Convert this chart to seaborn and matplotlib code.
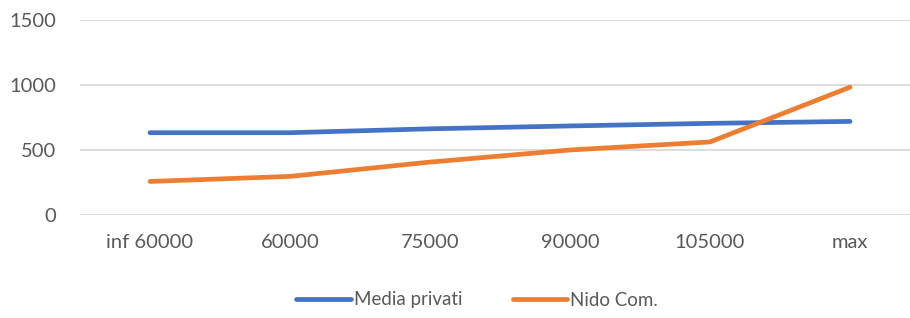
#!/usr/bin/env python3
"""Line chart: Media privati vs Nido Com. by income band."""

import matplotlib

matplotlib.use("Agg")
import matplotlib.pyplot as plt
import pandas as pd
import seaborn as sns

categories = ["inf 60000", "60000", "75000", "90000", "105000", "max"]
media_privati = [633, 633, 663, 685, 705, 720]
nido_com = [258, 297, 407, 500, 562, 983]
series_names = ["Media privati", "Nido Com."]
y_ticks = [0, 500, 1000, 1500]

sns.set_style("white")
plt.rcParams["font.family"] = ["Lato", "DejaVu Sans"]

TEXT = "#595959"
GRID = "#D9D9D9"
palette = {"Media privati": "#4472C4", "Nido Com.": "#ED7D31"}

df = pd.DataFrame(
    {
        "category": categories * 2,
        "value": media_privati + nido_com,
        "series": [series_names[0]] * len(categories) + [series_names[1]] * len(categories),
    }
)

fig = plt.figure(figsize=(9.1, 3.18), dpi=100)
W, H = 910, 318
ax = fig.add_axes([80 / W, (H - 215) / H, 840 / W, 195 / H])

sns.lineplot(
    data=df,
    x="category",
    y="value",
    hue="series",
    palette=palette,
    sort=False,
    linewidth=3.4,
    solid_capstyle="round",
    ax=ax,
    legend=False,
)

ax.set_xlim(-0.5, len(categories) - 0.5)
ax.set_ylim(0, 1500)
ax.set_yticks(y_ticks)
ax.set_yticklabels([str(t) for t in y_ticks])
ax.set_xlabel("")
ax.set_ylabel("")
ax.yaxis.grid(True, color=GRID, linewidth=1.3)
ax.set_axisbelow(True)
for s in ax.spines.values():
    s.set_visible(False)
ax.tick_params(axis="both", length=0, colors=TEXT, labelsize=14.5)
ax.tick_params(axis="y", pad=17)
ax.tick_params(axis="x", pad=14)

handles = [
    plt.Line2D([0], [0], color=palette[n], linewidth=3.4, solid_capstyle="round")
    for n in series_names
]
fig.legend(
    handles,
    series_names,
    loc="center",
    bbox_to_anchor=(477 / W, (H - 300) / H),
    ncol=2,
    frameon=False,
    fontsize=13.5,
    handlelength=2.9,
    handletextpad=0.15,
    columnspacing=2.7,
    labelcolor=TEXT,
)

fig.savefig("out.png", dpi=100)
